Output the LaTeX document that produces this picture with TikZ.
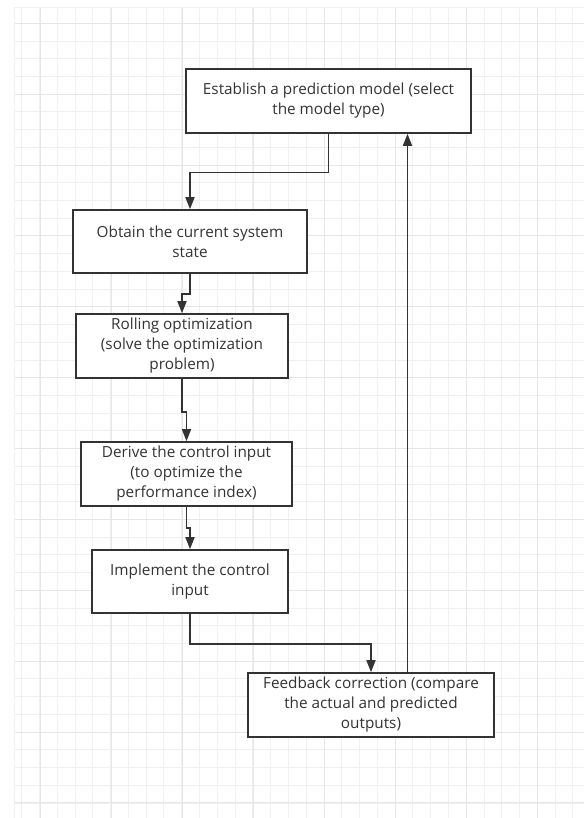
\documentclass[tikz,border=0pt]{standalone}
\usepackage{fontspec}
\setmainfont{Open Sans}
\usetikzlibrary{arrows.meta}
\definecolor{ink}{HTML}{333333}
\definecolor{gridminor}{HTML}{F0F0F0}
\definecolor{gridmajor}{HTML}{E6E6E6}
\begin{document}
\begin{tikzpicture}[x=1pt,y=-1pt,
  box/.style={draw=ink,line width=1.6pt,fill=white,rectangle,inner sep=0pt,
    align=center,text=ink,font=\fontsize{15.3}{20}\selectfont},
  arr/.style={draw=ink,line width=1.6pt,-{Triangle[length=12pt,width=9pt]}}]
\useasboundingbox (0,0) rectangle (584,818);
\fill[white] (0,0) rectangle (584,818);
% grid
\foreach \i in {0,...,32}{
  \pgfmathsetmacro{\gx}{21.7+17.78*\i}
  \draw[gridminor,line width=0.9pt] (\gx,7) -- (\gx,818);
}
\foreach \j in {0,...,45}{
  \pgfmathsetmacro{\gy}{23.3+17.72*\j}
  \draw[gridminor,line width=0.9pt] (14,\gy) -- (584,\gy);
}
\foreach \i in {0,...,8}{
  \pgfmathsetmacro{\gx}{40+71.12*\i}
  \draw[gridmajor,line width=1pt] (\gx,7) -- (\gx,818);
}
\foreach \j in {0,...,11}{
  \pgfmathsetmacro{\gy}{23.3+70.88*\j}
  \draw[gridmajor,line width=1pt] (14,\gy) -- (584,\gy);
}
\draw[gridminor,line width=0.9pt] (14,7) -- (584,7);
\draw[gridminor,line width=0.9pt] (14,7) -- (14,818);
% boxes
\node[box,minimum width=285pt,minimum height=64pt] (b1) at (328.5,101) {Establish a prediction model (select\\the model type)};
\node[box,minimum width=234pt,minimum height=63pt] (b2) at (190,241.5) {Obtain the current system\\state};
\node[box,minimum width=212pt,minimum height=64pt] (b3) at (182,346) {Rolling optimization\\(solve the optimization\\problem)};
\node[box,minimum width=211pt,minimum height=64pt] (b4) at (186.5,474) {Derive the control input\\(to optimize the\\performance index)};
\node[box,minimum width=196pt,minimum height=63pt] (b5) at (190,581.5) {Implement the control\\input};
\node[box,minimum width=246pt,minimum height=64pt] (b6) at (371,705) {Feedback correction (compare\\the actual and predicted\\outputs)};
% connectors
\draw[arr] (b1.south) -- ++(0,38.7) -| (b2.north);
\draw[arr] (b2.south) -- ++(0,20) -| (b3.north);
\draw[arr] (b3.south) -- ++(0,33) -| (b4.north);
\draw[arr] (b4.south) -- ++(0,21) -| (b5.north);
\draw[arr] (b5.south) -- ++(0,30.3) -| (b6.north);
\coordinate (fb) at (407.5,0);
\draw[arr] (b6.north -| fb) -- (b1.south -| fb);
\end{tikzpicture}
\end{document}
